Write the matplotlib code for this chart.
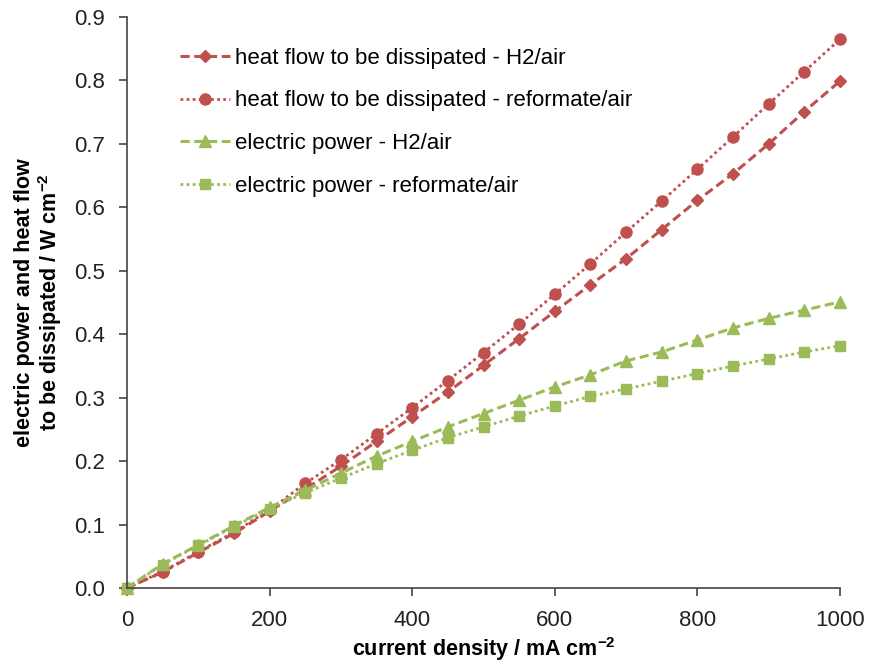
import numpy as np
import matplotlib.pyplot as plt

plt.rcParams['font.family'] = ['Liberation Sans', 'DejaVu Sans']
plt.rcParams['mathtext.fontset'] = 'custom'
plt.rcParams['mathtext.rm'] = 'Liberation Sans'
plt.rcParams['mathtext.bf'] = 'Liberation Sans:bold'

current = [0, 50, 100, 150, 200, 250, 300, 350, 400, 450, 500,
           550, 600, 650, 700, 750, 800, 850, 900, 950, 1000]

heat_h2 = [0.0, 0.025, 0.056, 0.086, 0.121, 0.156, 0.192, 0.231, 0.270, 0.309, 0.351,
           0.393, 0.436, 0.478, 0.519, 0.565, 0.611, 0.653, 0.700, 0.751, 0.799]
heat_ref = [0.0, 0.026, 0.057, 0.088, 0.123, 0.165, 0.202, 0.243, 0.284, 0.327, 0.371,
            0.416, 0.463, 0.511, 0.561, 0.610, 0.660, 0.711, 0.763, 0.814, 0.865]
power_h2 = [0.0, 0.038, 0.068, 0.098, 0.127, 0.154, 0.181, 0.208, 0.231, 0.254, 0.275,
            0.296, 0.317, 0.336, 0.358, 0.372, 0.391, 0.410, 0.425, 0.438, 0.451]
power_ref = [0.0, 0.037, 0.067, 0.097, 0.125, 0.150, 0.173, 0.196, 0.217, 0.237, 0.254,
             0.271, 0.287, 0.302, 0.314, 0.326, 0.338, 0.350, 0.361, 0.372, 0.382]

red = '#C0504D'
green = '#9BBB59'

fig = plt.figure(figsize=(8.71, 6.65), dpi=100)
ax = fig.add_axes([127 / 871, 1 - 588 / 665, 713 / 871, 571 / 665])

ax.plot(current, heat_h2, color=red, ls=(0, (3, 1.5)), lw=2.2, marker='D', ms=6,
        clip_on=False, label='heat flow to be dissipated - H2/air')
ax.plot(current, heat_ref, color=red, ls=(0, (1, 1.2)), lw=2.0, marker='o', ms=8,
        clip_on=False, label='heat flow to be dissipated - reformate/air')
ax.plot(current, power_h2, color=green, ls=(0, (3, 1.5)), lw=2.2, marker='^', ms=8,
        clip_on=False, label='electric power - H2/air')
ax.plot(current, power_ref, color=green, ls=(0, (1, 1.2)), lw=2.0, marker='s', ms=7.5,
        clip_on=False, label='electric power - reformate/air')

ax.set_xlim(0, 1000)
ax.set_ylim(0, 0.9)
ax.set_xticks(np.arange(0, 1001, 200))
ax.set_yticks(np.arange(0, 0.91, 0.1))
ax.yaxis.set_major_formatter(plt.FormatStrFormatter('%.1f'))
ax.spines['top'].set_visible(False)
ax.spines['right'].set_visible(False)
for s in ('left', 'bottom'):
    ax.spines[s].set_linewidth(1.2)
    ax.spines[s].set_color('#444444')
ax.tick_params(axis='both', labelsize=16, length=6, width=1.2, color='#444444',
               labelcolor='#222222')
ax.tick_params(axis='y', pad=10)
ax.tick_params(axis='x', pad=10)

ax.set_xlabel('current density / mA cm$^{\\mathbf{-2}}$', fontsize=15.5,
              fontweight='bold', labelpad=3)
ax.set_ylabel('electric power and heat flow\nto be dissipated / W cm$^{\\mathbf{-2}}$',
              fontsize=15.5, fontweight='bold', linespacing=1.05, labelpad=7)

ax.legend(loc='upper left', bbox_to_anchor=(0.074, 0.946), frameon=False, fontsize=16,
          handlelength=2.25, handletextpad=0.25, labelspacing=0.97,
          borderpad=0, borderaxespad=0)

fig.savefig('out.png', dpi=100)
